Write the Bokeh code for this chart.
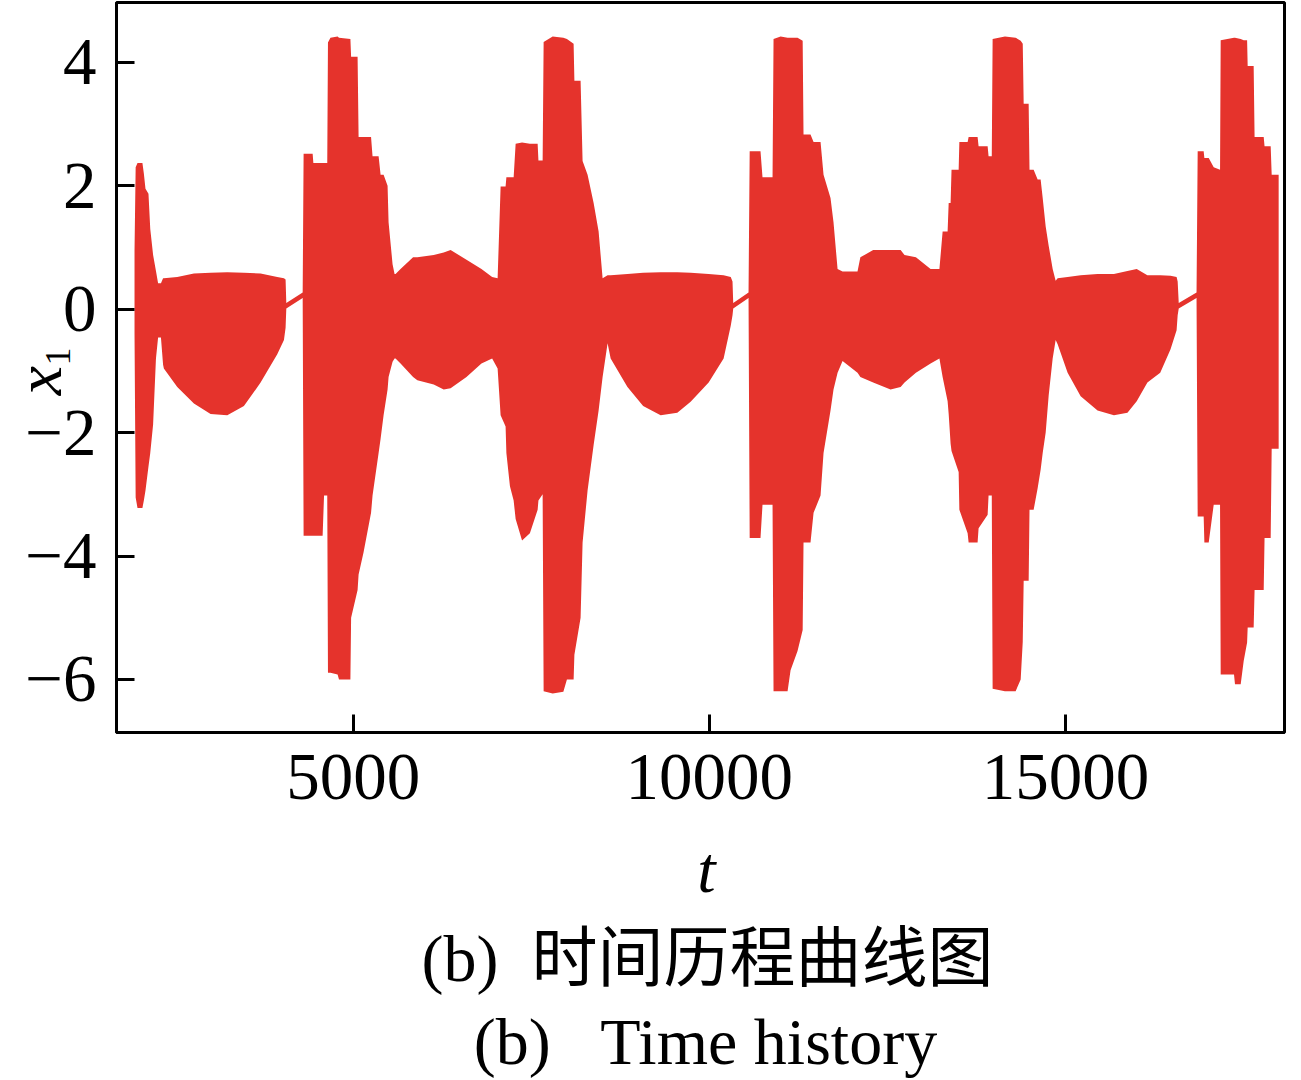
import math
from bokeh.plotting import figure
from bokeh.models import Range1d, Label, CustomJSTickFormatter, FixedTicker
from bokeh.embed import file_html
from bokeh.resources import INLINE

# ---- data: envelope of the dense oscillation x1(t) ----
t_env = [
    1929, 1945, 1971, 2040, 2060, 2083, 2125, 2150, 2190, 2230, 2260, 2300, 2330,
    2341, 2529, 2763, 2997, 3231, 3465, 3699, 3933, 4027, 4050,
    4060, 4290,
    4303, 4430, 4440, 4570, 4590, 4635, 4645, 4680, 4780, 4800, 4960, 4970, 5061,
    5075, 5145, 5250, 5271, 5356, 5384, 5426, 5482, 5496, 5552, 5580,
    5594, 5664, 5840, 5900, 6130, 6270, 6367, 6590, 6800, 6950, 7027,
    7069, 7139, 7150, 7200, 7252, 7280, 7370, 7480, 7589, 7600, 7659, 7673, 7800,
    7950, 8000, 8094, 8105, 8192, 8220, 8290, 8375, 8445, 8501, 8571,
    8614, 8850, 9070, 9316, 9550, 9737, 9990, 10200, 10300, 10325,
    10335, 10550,
    10566, 10718, 10746, 10887, 10901, 11000, 11098, 11140, 11238, 11310, 11322,
    11420, 11463, 11561, 11603, 11701, 11743, 11800, 11870,
    12080, 12120, 12300, 12544, 12685, 12740, 12900, 13106, 13230,
    13275, 13345, 13360, 13387, 13400, 13500, 13510, 13626, 13640, 13766, 13780,
    13907, 13920, 13965, 13977, 14150, 14300, 14371, 14400, 14413, 14483, 14495,
    14553, 14609, 14651, 14680, 14722, 14764, 14820, 14862,
    14890, 15030, 15213, 15450, 15680, 15870, 16000, 16150, 16330, 16475, 16560, 16575,
    16590, 16840,
    16856, 16940, 16950, 17011, 17081, 17170, 17179, 17366, 17380, 17460, 17502,
    17550, 17558, 17642, 17655, 17783, 17795, 17881, 17895, 17993,
]
x1_upper = [
    0.95, 2.30, 2.37, 2.37, 2.20, 1.95, 1.87, 1.30, 0.88, 0.62, 0.42, 0.42, 0.50,
    0.50, 0.52, 0.58, 0.59, 0.60, 0.59, 0.58, 0.52, 0.50, 0.48,
    0.10, 0.27,
    2.52, 2.52, 2.37, 2.37, 2.37, 2.37, 4.32, 4.40, 4.42, 4.40, 4.38, 4.09, 4.09,
    2.79, 2.79, 2.79, 2.48, 2.48, 2.18, 2.18, 2.00, 1.41, 0.73, 0.57,
    0.57, 0.65, 0.84, 0.84, 0.88, 0.92, 0.96, 0.80, 0.65, 0.52, 0.50,
    1.99, 1.99, 2.14, 2.14, 2.14, 2.68, 2.70, 2.68, 2.68, 2.41, 2.41, 4.33, 4.42,
    4.40, 4.38, 4.30, 3.70, 3.70, 2.40, 2.18, 1.72, 1.26, 0.50, 0.55,
    0.55, 0.57, 0.59, 0.60, 0.60, 0.59, 0.57, 0.55, 0.52, 0.45,
    0.10, 0.27,
    2.56, 2.56, 2.14, 2.14, 4.38, 4.42, 4.40, 4.40, 4.40, 4.35, 2.83,
    2.83, 2.71, 2.71, 2.18, 1.80, 1.41, 0.65, 0.61,
    0.61, 0.84, 0.96, 0.96, 0.96, 0.88, 0.84, 0.65, 0.65,
    1.26, 1.26, 1.72, 1.72, 2.26, 2.26, 2.71, 2.71, 2.79, 2.79, 2.64,
    2.64, 2.48, 2.48, 4.38, 4.42, 4.40, 4.35, 4.30, 3.33, 3.33, 2.26,
    2.26, 2.10, 2.10, 1.80, 1.34, 1.03, 0.65, 0.46,
    0.50, 0.52, 0.55, 0.57, 0.57, 0.62, 0.65, 0.55, 0.55, 0.54, 0.52, 0.45,
    0.10, 0.27,
    2.56, 2.56, 2.45, 2.45, 2.30, 2.26, 4.36, 4.40, 4.40, 4.38, 4.36,
    4.36, 3.94, 3.94, 2.79, 2.79, 2.64, 2.64, 2.18, 2.18,
]
x1_lower = [
    -0.40, -3.05, -3.22, -3.22, -3.10, -2.94, -2.55, -2.33, -1.87, -0.80, -0.46, -0.46, -0.90,
    -0.96, -1.26, -1.53, -1.70, -1.72, -1.57, -1.19, -0.73, -0.50, -0.30,
    0.01, 0.18,
    -3.67, -3.67, -3.67, -3.67, -3.02, -3.02, -5.89, -5.89, -5.92, -6.00, -6.00, -5.00, -4.55,
    -4.30, -3.94, -3.30, -3.02, -2.33, -2.10, -1.72, -1.30, -1.10, -0.85, -0.80,
    -0.80, -0.88, -1.10, -1.15, -1.22, -1.30, -1.28, -1.10, -0.88, -0.80, -0.96,
    -1.72, -1.90, -2.33, -2.87, -3.10, -3.40, -3.75, -3.63, -3.25, -3.10, -3.00, -6.19, -6.23,
    -6.20, -6.00, -6.00, -5.60, -5.00, -3.78, -2.94, -2.20, -1.64, -1.10, -0.55,
    -0.80, -1.26, -1.57, -1.72, -1.68, -1.50, -1.19, -0.80, -0.27, -0.10,
    0.01, 0.18,
    -3.71, -3.71, -3.17, -3.17, -6.19, -6.19, -6.19, -5.85, -5.54, -5.20, -3.78,
    -3.78, -3.30, -3.02, -2.33, -1.64, -1.30, -1.03, -0.84,
    -1.03, -1.10, -1.19, -1.30, -1.26, -1.19, -1.03, -0.88, -0.80,
    -1.10, -1.49, -1.70, -2.18, -2.30, -2.64, -3.25, -3.63, -3.78, -3.78, -3.55,
    -3.33, -3.02, -3.02, -6.15, -6.19, -6.19, -6.00, -5.39, -4.40, -4.40, -3.25,
    -3.25, -2.90, -2.60, -2.33, -2.00, -1.40, -0.80, -0.50,
    -0.57, -1.03, -1.41, -1.64, -1.72, -1.68, -1.49, -1.19, -1.03, -0.65, -0.34, -0.10,
    0.01, 0.18,
    -3.36, -3.36, -3.78, -3.78, -3.17, -3.17, -5.92, -5.92, -6.08, -6.08, -5.70,
    -5.40, -5.16, -5.16, -4.55, -4.55, -3.71, -3.71, -2.26, -2.26,
]

x_ticks = [5000, 10000, 15000]
y_ticks = [-6, -4, -2, 0, 2, 4]

x_label = "t"
y_label = "x"
y_label_sub = "1"
NB = "\u00a0"
caption_cn = "(b)" + NB * 2 + "时间历程曲线图"
caption_en = "(b)" + NB * 3 + "Time history"

# ---- layout ----
X0, X1 = 1676, 18075
Y0, Y1 = -6.86, 4.97
W, H = 1296, 1080
B_LEFT, B_TOP = 116, 2
B_RIGHT = W - 1284
B_BOTTOM = H - 732
FRAME_W = W - B_LEFT - B_RIGHT
FRAME_H = H - B_TOP - B_BOTTOM
RED = "#e5332c"
SERIF = "Liberation Serif"
FS = 66
TICK_FS = 67
MID = 0.3375  # distance from text middle to alphabetic baseline, in em


def dx(px):
    return X0 + (px - B_LEFT) / FRAME_W * (X1 - X0)


def dy(py):
    return Y1 - (py - B_TOP) / FRAME_H * (Y1 - Y0)


p = figure(width=W, height=H, x_range=Range1d(X0, X1), y_range=Range1d(Y0, Y1),
           output_backend="svg", toolbar_location=None,
           min_border_left=B_LEFT, min_border_right=B_RIGHT,
           min_border_top=B_TOP, min_border_bottom=B_BOTTOM,
           background_fill_color="white", border_fill_color="white")

p.varea(x=t_env, y1=x1_lower, y2=x1_upper, fill_color=RED, fill_alpha=1.0)

p.xgrid.visible = False
p.ygrid.visible = False
p.outline_line_color = "black"
p.outline_line_width = 3
p.outline_line_alpha = 1.0

for ax in (p.xaxis[0], p.yaxis[0]):
    ax.axis_line_width = 3
    ax.axis_line_color = "black"
    ax.major_tick_in = 18
    ax.major_tick_out = 0
    ax.major_tick_line_width = 3
    ax.major_tick_line_color = "black"
    ax.minor_tick_line_color = None
    ax.major_label_text_font = SERIF
    ax.major_label_text_font_size = f"{TICK_FS}px"
    ax.major_label_text_color = "black"

p.xaxis[0].ticker = FixedTicker(ticks=x_ticks)
p.yaxis[0].ticker = FixedTicker(ticks=y_ticks)
p.xaxis[0].major_label_standoff = 22
p.yaxis[0].major_label_standoff = 20
p.yaxis[0].formatter = CustomJSTickFormatter(
    code="return tick < 0 ? '\u2212' + Math.abs(tick) : String(tick);")


def lab(text, px, py, size=FS, style="normal", font=SERIF, angle=0.0):
    # (px, py): horizontal centre / alphabetic baseline of the text on the page
    if angle:
        ax_, ay_ = px - MID * size, py
    else:
        ax_, ay_ = px, py - MID * size
    return Label(x=dx(ax_), y=dy(ay_), text=text, text_font=font,
                 text_font_size=f"{size}px", text_font_style=style, angle=angle,
                 text_align="center", text_baseline="middle", text_color="black")


# labels live in side panels (drawn unclipped); their panel sizes are small
p.add_layout(lab(x_label, 706, 891, style="italic"), "left")
p.add_layout(lab(y_label, 60, 380, style="italic", angle=math.pi / 2), "below")
p.add_layout(lab(y_label_sub, 70, 356, size=36, angle=math.pi / 2), "below")
p.add_layout(lab(caption_cn, 707, 980,
                 font="'Liberation Serif', 'Noto Sans CJK SC'"), "below")
p.add_layout(lab(caption_en, 705, 1063), "below")

open("out.html", "w").write(file_html(p, INLINE))
